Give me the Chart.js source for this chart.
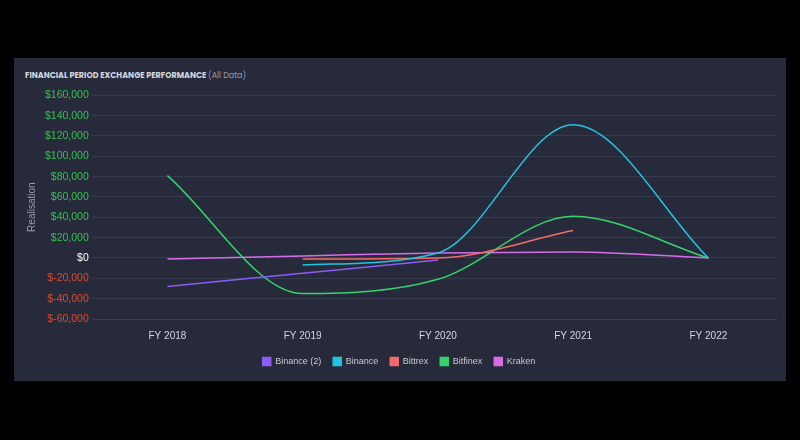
<!DOCTYPE html>
<html>
<head>
<meta charset="utf-8">
<script src="https://cdn.jsdelivr.net/npm/chart.js@4"></script>
<style>
  body { margin: 0; background: #000; width: 800px; height: 440px; overflow: hidden; font-family: Poppins, "Noto Sans", sans-serif; }
  #panel { position: absolute; left: 14px; top: 58px; width: 772px; height: 323px; background: #262a3b; }
  #title { position: absolute; left: 11px; top: 12px; font-size: 8px; font-weight: bold; color: #d4d6de; }
  #title span { font-weight: normal; color: #9a9eab; }
  #wrap { position: absolute; left: 0; top: 28px; width: 772px; height: 290px; }
</style>
</head>
<body>
<div id="panel">
  <div id="title">FINANCIAL PERIOD EXCHANGE PERFORMANCE <span>(All Data)</span></div>
  <div id="wrap"><canvas id="chart"></canvas></div>
</div>
<script>
const years = ['FY 2018', 'FY 2019', 'FY 2020', 'FY 2021', 'FY 2022'];
const binance2 = [-28000, -15000, -2000, null, null];
const binance = [null, -7000, 5000, 131000, 0];
const bittrex = [null, -1000, 0, 27000, null];
const bitfinex = [81000, -35000, -21000, 41000, 0];
const kraken = [-1000, 2000, 5000, 6000, 0];

function ds(label, data, color) {
  return { label, data, borderColor: color, backgroundColor: color, borderWidth: 1.5,
    pointRadius: 0, cubicInterpolationMode: 'monotone', spanGaps: false };
}

new Chart(document.getElementById('chart'), {
  type: 'line',
  data: {
    labels: years,
    datasets: [
      ds('Binance (2)', binance2, '#8b5cf6'),
      ds('Binance', binance, '#22c5e0'),
      ds('Bittrex', bittrex, '#f26b6b'),
      ds('Bitfinex', bitfinex, '#34d46a'),
      ds('Kraken', kraken, '#d36ee8')
    ]
  },
  options: {
    responsive: true, maintainAspectRatio: false, animation: false,
    layout: { padding: { left: 8, right: 10, top: 4 } },
    plugins: {
      legend: { position: 'bottom', labels: { color: '#c8cad2', font: { size: 9 }, boxWidth: 8, boxHeight: 8, padding: 12 } },
      tooltip: { enabled: false }
    },
    scales: {
      x: {
        offset: true,
        grid: { display: false },
        border: { color: '#3a3f52' },
        ticks: { color: '#d4d6de', font: { size: 10 } }
      },
      y: {
        min: -60000, max: 160000,
        grid: { color: '#363b4d' },
        border: { display: false },
        title: { display: true, text: 'Realisation', color: '#9a9eab', font: { size: 10 } },
        ticks: {
          stepSize: 20000,
          font: { size: 10.5 },
          color: ctx => ctx.tick.value > 0 ? '#33c24d' : (ctx.tick.value < 0 ? '#e24a2a' : '#ffffff'),
          callback: v => '$' + v.toLocaleString('en-US')
        }
      }
    }
  }
});
</script>
</body>
</html>
